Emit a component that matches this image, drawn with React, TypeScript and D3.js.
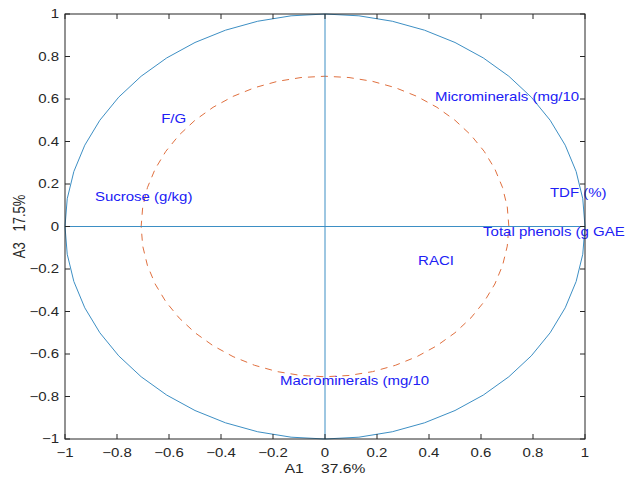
import React, { useEffect, useRef } from 'react';
import * as d3 from 'd3';

// axis ticks
const xTicks = [-1, -0.8, -0.6, -0.4, -0.2, 0, 0.2, 0.4, 0.6, 0.8, 1];
const yTicks = [-1, -0.8, -0.6, -0.4, -0.2, 0, 0.2, 0.4, 0.6, 0.8, 1];

// variable labels (A1, A3)
const labelNames = [
  'Microminerals (mg/10',
  'F/G',
  'Sucrose (g/kg)',
  'TDF (%)',
  'Total phenols (g GAE',
  'RACI',
  'Macrominerals (mg/10',
];
const labelX = [0.423, -0.63, -0.885, 0.865, 0.608, 0.358, -0.173];
const labelY = [0.61, 0.51, 0.139, 0.158, -0.026, -0.162, -0.727];

const circleRadii = [1, Math.SQRT1_2];
const circleSegments = 48;

const App = () => {
  const svgRef = useRef<SVGSVGElement>(null);

  useEffect(() => {
    if (!svgRef.current) return;
    const svg = d3.select(svgRef.current);
    svg.selectAll('*').remove();

    const x = d3.scaleLinear().domain([-1, 1]).range([65, 585]);
    const y = d3.scaleLinear().domain([-1, 1]).range([439, 14]);
    const font = 'Helvetica, Arial, "Liberation Sans", sans-serif';
    const axisColor = '#262626';
    const blue = '#3d8fc4';
    const sx = 1.2; // the picture's text is a bit wider than tall

    const g = svg.append('g');

    // circles
    const line = d3.line<[number, number]>().x(d => x(d[0])).y(d => y(d[1]));
    circleRadii.forEach((r, i) => {
      const pts: [number, number][] = d3.range(circleSegments + 1).map(k => {
        const t = (k / circleSegments) * 2 * Math.PI;
        return [r * Math.cos(t), r * Math.sin(t)];
      });
      g.append('path')
        .attr('d', line(pts))
        .attr('fill', 'none')
        .attr('stroke', i === 0 ? blue : '#e0703f')
        .attr('stroke-width', 1)
        .attr('stroke-dasharray', i === 0 ? null : '7,6');
    });

    // cross lines
    g.append('line')
      .attr('x1', x(0)).attr('x2', x(0)).attr('y1', y(-1)).attr('y2', y(1))
      .attr('stroke', blue).attr('stroke-width', 1);
    g.append('line')
      .attr('x1', x(-1)).attr('x2', x(1)).attr('y1', y(0)).attr('y2', y(0))
      .attr('stroke', blue).attr('stroke-width', 1);

    // labels
    labelNames.forEach((name, i) => {
      g.append('text')
        .attr('transform', `translate(${x(labelX[i])},${y(labelY[i])}) scale(${sx},1)`)
        .attr('dy', '0.35em')
        .attr('fill', '#2020f5')
        .attr('font-family', font)
        .attr('font-size', 12.5)
        .text(name);
    });

    // axes box
    const axG = svg.append('g');
    axG.append('rect')
      .attr('x', x(-1)).attr('y', y(1))
      .attr('width', x(1) - x(-1)).attr('height', y(-1) - y(1))
      .attr('fill', 'none').attr('stroke', axisColor).attr('stroke-width', 1);

    const tl = 5;
    xTicks.forEach(t => {
      axG.append('line').attr('x1', x(t)).attr('x2', x(t)).attr('y1', y(-1)).attr('y2', y(-1) - tl)
        .attr('stroke', axisColor);
      axG.append('line').attr('x1', x(t)).attr('x2', x(t)).attr('y1', y(1)).attr('y2', y(1) + tl)
        .attr('stroke', axisColor);
      axG.append('text')
        .attr('transform', `translate(${x(t)},${y(-1) + 18}) scale(${sx},1)`)
        .attr('text-anchor', 'middle')
        .attr('fill', axisColor)
        .attr('font-family', font)
        .attr('font-size', 12.5)
        .text(d3.format('~g')(t));
    });
    yTicks.forEach(t => {
      axG.append('line').attr('x1', x(-1)).attr('x2', x(-1) + tl).attr('y1', y(t)).attr('y2', y(t))
        .attr('stroke', axisColor);
      axG.append('line').attr('x1', x(1)).attr('x2', x(1) - tl).attr('y1', y(t)).attr('y2', y(t))
        .attr('stroke', axisColor);
      axG.append('text')
        .attr('transform', `translate(${x(-1) - 6},${y(t)}) scale(${sx},1)`)
        .attr('dy', '0.35em')
        .attr('text-anchor', 'end')
        .attr('fill', axisColor)
        .attr('font-family', font)
        .attr('font-size', 12.5)
        .text(d3.format('~g')(t));
    });

    // axis titles
    svg.append('text')
      .attr('transform', `translate(${x(0)},473) scale(${sx},1)`)
      .attr('text-anchor', 'middle')
      .attr('fill', axisColor)
      .attr('font-family', font)
      .attr('font-size', 13)
      .style('white-space', 'pre')
      .text('A1    37.6%');
    svg.append('text')
      .attr('transform', `translate(25,${y(0)}) rotate(-90) scale(1,${sx})`)
      .attr('text-anchor', 'middle')
      .attr('fill', axisColor)
      .attr('font-family', font)
      .attr('font-size', 13)
      .style('white-space', 'pre')
      .text('A3   17.5%');
  }, []);

  return (
    <svg ref={svgRef} width={628} height={483}
      style={{ position: 'absolute', left: 0, top: 0, background: '#fff' }} />
  );
};

export default App;
